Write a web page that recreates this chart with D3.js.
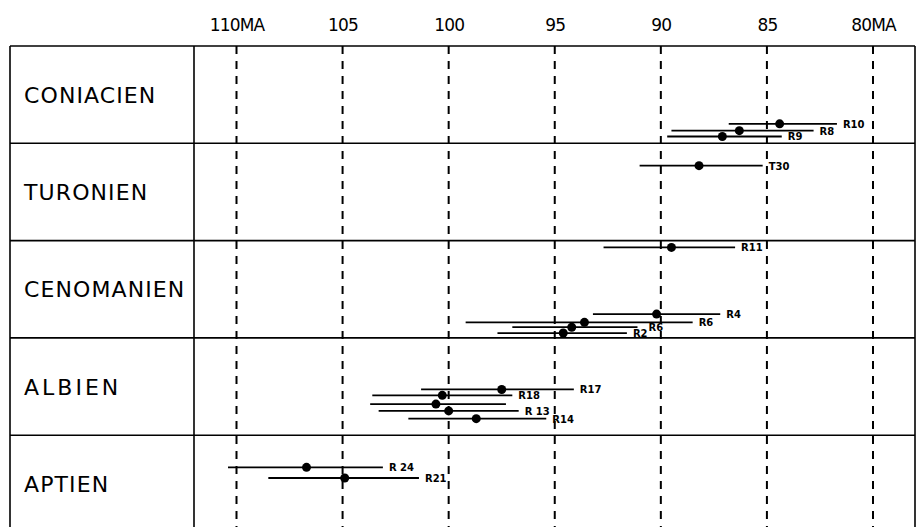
<!DOCTYPE html>
<html>
<head>
<meta charset="utf-8">
<script src="https://cdn.jsdelivr.net/npm/d3@7"></script>
<style>
  body { margin: 0; background: #fff; }
  svg { display: block; }
  .tick text { font-family: "DejaVu Sans", sans-serif; }
</style>
</head>
<body>
<svg id="chart" width="917" height="527"></svg>
<script>
// stages (rows), oldest at the bottom
var stages = ["CONIACIEN", "TURONIEN", "CENOMANIEN", "ALBIEN", "APTIEN"];
var ageTicks = [110, 105, 100, 95, 90, 85, 80];

// samples: name, stage, best age and interval (Ma), position inside the row (0 = top, 1 = bottom)
var sampleLabels = ["R10", "R8", "R9", "T30", "R11", "R4", "R6", "R6", "R2", "R17", "R18", "", "R 13", "R14", "R 24", "R21"];
var sampleStage  = ["CONIACIEN", "CONIACIEN", "CONIACIEN", "TURONIEN", "CENOMANIEN", "CENOMANIEN", "CENOMANIEN", "CENOMANIEN", "CENOMANIEN",
                    "ALBIEN", "ALBIEN", "ALBIEN", "ALBIEN", "ALBIEN", "APTIEN", "APTIEN"];
var sampleAge    = [84.4, 86.3, 87.1, 88.2, 89.5, 90.2, 93.6, 94.2, 94.6, 97.5, 100.3, 100.6, 100.0, 98.7, 106.7, 104.9];
var sampleOld    = [86.8, 89.5, 89.7, 91.0, 92.7, 93.2, 99.2, 97.0, 97.7, 101.3, 103.6, 103.7, 103.3, 101.9, 110.4, 108.5];
var sampleYoung  = [81.7, 82.8, 84.3, 85.2, 86.5, 87.2, 88.5, 91.1, 91.6, 94.1, 97.0, 97.3, 96.7, 95.4, 103.1, 101.4];
var sampleLane   = [0.80, 0.87, 0.93, 0.23, 0.07, 0.755, 0.84, 0.89, 0.95, 0.53, 0.59, 0.68, 0.75, 0.83, 0.33, 0.44];

var svg = d3.select("#chart"),
    frame = {left: 10, right: 915, top: 46, split: 194},
    rowHeight = 97.3;

var x = d3.scaleLinear().domain([110, 80]).range([236.5, 873]);
var y = d3.scaleBand().domain(stages).range([frame.top, frame.top + rowHeight * stages.length]);
var lane = d3.scaleLinear().domain([0, 1]).range([0, y.bandwidth()]);

var data = sampleLabels.map(function(d, i) {
  return {label: d, stage: sampleStage[i], age: sampleAge[i], old: sampleOld[i], young: sampleYoung[i], lane: sampleLane[i]};
});
function yPos(d) { return y(d.stage) + lane(d.lane); }

// top axis with age labels
svg.append("g")
    .attr("transform", "translate(0,31)")
    .call(d3.axisTop(x).tickValues(ageTicks).tickSize(0).tickPadding(0)
      .tickFormat(function(d) { return (d == 110 || d == 80) ? d + "MA" : d; }))
    .call(function(g) { g.select(".domain").remove(); })
    .selectAll("text")
      .attr("font-size", 17)
      .attr("letter-spacing", -0.8)
      .attr("fill", "#000");

// dashed age lines
svg.append("g").selectAll("line")
  .data(ageTicks)
  .enter().append("line")
    .attr("x1", function(d) { return x(d); })
    .attr("x2", function(d) { return x(d); })
    .attr("y1", frame.top)
    .attr("y2", 527)
    .attr("stroke", "#000")
    .attr("stroke-width", 2)
    .attr("stroke-dasharray", "8,7");

// table frame
var tbl = svg.append("g").attr("stroke", "#000").attr("stroke-width", 1.6);
tbl.selectAll(".row")
  .data(stages)
  .enter().append("line")
    .attr("x1", frame.left)
    .attr("x2", frame.right)
    .attr("y1", function(d) { return y(d); })
    .attr("y2", function(d) { return y(d); });
[frame.left, frame.split, frame.right].forEach(function(xx) {
  tbl.append("line").attr("x1", xx).attr("x2", xx).attr("y1", frame.top).attr("y2", 527);
});

// stage names
svg.append("g").selectAll("text")
  .data(stages)
  .enter().append("text")
    .attr("x", 24)
    .attr("y", function(d) { return y(d) + y.bandwidth() / 2 + 8; })
    .attr("font-family", "DejaVu Sans, sans-serif")
    .attr("font-size", 22)
    .attr("letter-spacing", function(d) { return d == "ALBIEN" ? 3 : 1.1; })
    .text(function(d) { return d; });

// age intervals
var marks = svg.append("g");
marks.selectAll(".bar")
  .data(data)
  .enter().append("line")
    .attr("x1", function(d) { return x(d.old); })
    .attr("x2", function(d) { return x(d.young); })
    .attr("y1", yPos)
    .attr("y2", yPos)
    .attr("stroke", "#000")
    .attr("stroke-width", 1.8);

marks.selectAll("circle")
  .data(data)
  .enter().append("circle")
    .attr("cx", function(d) { return x(d.age); })
    .attr("cy", yPos)
    .attr("r", 4.5)
    .attr("fill", "#000");

var labels = marks.selectAll("text")
  .data(data.filter(function(d) { return d.label; }))
  .enter().append("text")
    .attr("x", function(d) { return x(d.young) + 6; })
    .attr("y", function(d) { return yPos(d) + 4; })
    .attr("font-family", "DejaVu Sans, sans-serif")
    .attr("font-size", 10)
    .attr("font-weight", "bold")
    .text(function(d) { return d.label; });

// push a label to the right when it runs into one already placed (left to right)
var placed = [];
labels.nodes()
  .sort(function(a, b) { return a.getBBox().x - b.getBBox().x; })
  .forEach(function(node) {
    var b = node.getBBox();
    placed.forEach(function(p) {
      if (b.x < p.x + p.width && b.x + b.width > p.x && b.y < p.y + p.height && b.y + b.height > p.y) {
        var shift = p.x + p.width + 1 - b.x;
        d3.select(node).attr("x", +d3.select(node).attr("x") + shift);
        b.x += shift;
      }
    });
    placed.push(b);
  });
</script>
</body>
</html>
